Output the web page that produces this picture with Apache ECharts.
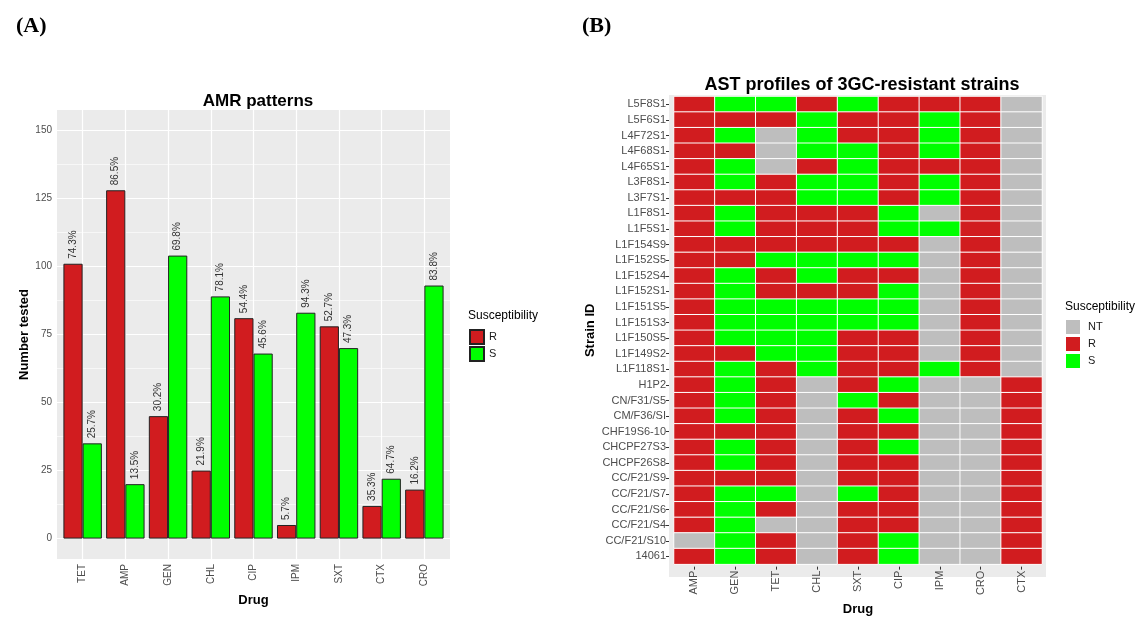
<!DOCTYPE html>
<html>
<head>
<meta charset="utf-8">
<script src="https://cdn.jsdelivr.net/npm/echarts@6/dist/echarts.min.js"></script>
<style>
html,body{margin:0;padding:0;background:#fff;}
#chart{width:1141px;height:621px;}
</style>
</head>
<body>
<div id="chart"></div>
<script>
// ---- Panel A data ----
const drugsA = ['TET','AMP','GEN','CHL','CIP','IPM','SXT','CTX','CRO'];
const resistantCounts = [101,128,45,25,81,5,78,12,18];
const susceptibleCounts = [35,20,104,89,68,83,70,22,93];
const resistantPct = ['74.3%','86.5%','30.2%','21.9%','54.4%','5.7%','52.7%','35.3%','16.2%'];
const susceptiblePct = ['25.7%','13.5%','69.8%','78.1%','45.6%','94.3%','47.3%','64.7%','83.8%'];
const yTicksA = [0,25,50,75,100,125,150];
const yMinorA = [12.5,37.5,62.5,87.5,112.5,137.5];

// ---- Panel B data ----
const drugsB = ['AMP','GEN','TET','CHL','SXT','CIP','IPM','CRO','CTX'];
const strains = ['L5F8S1','L5F6S1','L4F72S1','L4F68S1','L4F65S1','L3F8S1','L3F7S1','L1F8S1','L1F5S1','L1F154S9',
  'L1F152S5','L1F152S4','L1F152S1','L1F151S5','L1F151S3','L1F150S5','L1F149S2','L1F118S1','H1P2','CN/F31/S5',
  'CM/F36/SI','CHF19S6-10','CHCPF27S3','CHCPF26S8','CC/F21/S9','CC/F21/S7','CC/F21/S6','CC/F21/S4','CC/F21/S10','14061'];
const profiles = [
  ['R','S','S','R','S','R','R','R','NT'],
  ['R','R','R','S','R','R','S','R','NT'],
  ['R','S','NT','S','R','R','S','R','NT'],
  ['R','R','NT','S','S','R','S','R','NT'],
  ['R','S','NT','R','S','R','R','R','NT'],
  ['R','S','R','S','S','R','S','R','NT'],
  ['R','R','R','S','S','R','S','R','NT'],
  ['R','S','R','R','R','S','NT','R','NT'],
  ['R','S','R','R','R','S','S','R','NT'],
  ['R','R','R','R','R','R','NT','R','NT'],
  ['R','R','S','S','S','S','NT','R','NT'],
  ['R','S','R','S','R','R','NT','R','NT'],
  ['R','S','R','R','R','S','NT','R','NT'],
  ['R','S','S','S','S','S','NT','R','NT'],
  ['R','S','S','S','S','S','NT','R','NT'],
  ['R','S','S','S','R','R','NT','R','NT'],
  ['R','R','S','S','R','R','NT','R','NT'],
  ['R','S','R','S','R','R','S','R','NT'],
  ['R','S','R','NT','R','S','NT','NT','R'],
  ['R','S','R','NT','S','R','NT','NT','R'],
  ['R','S','R','NT','R','S','NT','NT','R'],
  ['R','R','R','NT','R','R','NT','NT','R'],
  ['R','S','R','NT','R','S','NT','NT','R'],
  ['R','S','R','NT','R','R','NT','NT','R'],
  ['R','R','R','NT','R','R','NT','NT','R'],
  ['R','S','S','NT','S','R','NT','NT','R'],
  ['R','S','R','NT','R','R','NT','NT','R'],
  ['R','S','NT','NT','R','R','NT','NT','R'],
  ['NT','S','R','NT','R','S','NT','NT','R'],
  ['R','S','R','NT','R','S','NT','NT','R']
];
const levels = ['NT','R','S'];

const RED = '#D11C1F', GREEN = '#00FF00', GREY = '#BEBEBE', PANEL = '#EBEBEB';
const FONT = 'Liberation Sans, Arial, sans-serif';

const heatData = [];
profiles.forEach((row, r) => row.forEach((v, c) => heatData.push([c, r, levels.indexOf(v)])));

const gridLinesA = [];
yTicksA.forEach(v => gridLinesA.push({yAxis: v, lineStyle: {color: '#fff', width: 1.2, type: 'solid'}}));
yMinorA.forEach(v => gridLinesA.push({yAxis: v, lineStyle: {color: '#fff', width: 0.6, type: 'solid'}}));
drugsA.forEach((d, i) => gridLinesA.push({xAxis: i, lineStyle: {color: '#fff', width: 1.2, type: 'solid'}}));

const chart = echarts.init(document.getElementById('chart'), null, {renderer: 'canvas'});
chart.setOption({
  animation: false,
  backgroundColor: '#fff',
  textStyle: {fontFamily: FONT},
  title: [
    {text: '(A)', left: 11, top: 10, textStyle: {fontFamily: 'Liberation Serif, serif', fontWeight: 'bold', fontSize: 22, color: '#000'}},
    {text: '(B)', left: 577, top: 10, textStyle: {fontFamily: 'Liberation Serif, serif', fontWeight: 'bold', fontSize: 22, color: '#000'}},
    {text: 'AMR patterns', left: 253, top: 88, textAlign: 'center', textStyle: {fontFamily: FONT, fontWeight: 'bold', fontSize: 17, color: '#000'}},
    {text: 'AST profiles of 3GC-resistant strains', left: 857, top: 71, textAlign: 'center', textStyle: {fontFamily: FONT, fontWeight: 'bold', fontSize: 18, color: '#000'}},
    {text: 'Susceptibility', left: 468, top: 310, padding: 0, textStyle: {fontFamily: FONT, fontWeight: 'normal', fontSize: 12, color: '#000'}},
    {text: 'Susceptibility', left: 1065, top: 301, padding: 0, textStyle: {fontFamily: FONT, fontWeight: 'normal', fontSize: 12, color: '#000'}}
  ],
  graphic: [
    {type: 'rect', z: -10, shape: {x: 669, y: 95, width: 377, height: 482}, style: {fill: PANEL}}
  ],
  legend: {
    data: ['R', 'S'], orient: 'vertical', left: 469, top: 329, padding: 0,
    itemWidth: 14, itemHeight: 14, itemGap: 1, icon: 'rect',
    textStyle: {fontFamily: FONT, fontSize: 11, color: '#1a1a1a'}
  },
  visualMap: {
    type: 'piecewise', seriesIndex: 3, orient: 'vertical', left: 1066, top: 320, padding: 0,
    itemWidth: 14, itemHeight: 14, itemGap: 3, itemSymbol: 'rect', textGap: 8, align: 'left',
    selectedMode: false, inverse: true,
    pieces: [
      {value: 0, label: 'NT', color: GREY},
      {value: 1, label: 'R', color: RED},
      {value: 2, label: 'S', color: GREEN}
    ],
    textStyle: {fontFamily: FONT, fontSize: 11, color: '#1a1a1a'}
  },
  grid: [
    {left: 57, top: 110, width: 393, height: 449, show: true, backgroundColor: PANEL, borderWidth: 0},
    {left: 674, top: 96.5, width: 368, height: 478}
  ],
  xAxis: [
    {
      gridIndex: 0, type: 'value', min: -0.6, max: 8.6,
      name: 'Drug', nameLocation: 'middle', nameGap: 32,
      nameTextStyle: {fontFamily: FONT, fontWeight: 'bold', fontSize: 13, color: '#000'},
      axisLine: {show: false}, splitLine: {show: false},
      axisTick: {show: true, length: 4, lineStyle: {color: '#333'}, customValues: drugsA.map((d, i) => i)},
      axisLabel: {rotate: 90, fontSize: 10, color: '#4D4D4D', margin: 5, fontFamily: FONT,
        customValues: drugsA.map((d, i) => i), formatter: v => drugsA[Math.round(v)] || ''}
    },
    {
      gridIndex: 1, type: 'category', data: drugsB, offset: 2.5,
      name: 'Drug', nameLocation: 'middle', nameGap: 34,
      nameTextStyle: {fontFamily: FONT, fontWeight: 'bold', fontSize: 13, color: '#000'},
      axisLine: {show: false}, splitLine: {show: false},
      axisTick: {show: true, alignWithLabel: true, length: 3, lineStyle: {color: '#333'}},
      axisLabel: {rotate: 90, fontSize: 11, color: '#4D4D4D', margin: 4, fontFamily: FONT}
    }
  ],
  yAxis: [
    {
      gridIndex: 0, type: 'value', min: -7.5, max: 157.5,
      name: 'Number tested', nameLocation: 'middle', nameGap: 26, nameRotate: 90,
      nameTextStyle: {fontFamily: FONT, fontWeight: 'bold', fontSize: 13, color: '#000'},
      axisLine: {show: false}, splitLine: {show: false},
      axisTick: {show: true, length: 4, lineStyle: {color: '#333'}, customValues: yTicksA},
      axisLabel: {fontSize: 10, color: '#4D4D4D', margin: 5, fontFamily: FONT, customValues: yTicksA}
    },
    {
      gridIndex: 1, type: 'category', data: strains, inverse: true, offset: 5,
      name: 'Strain ID', nameLocation: 'middle', nameGap: 72, nameRotate: 90,
      nameTextStyle: {fontFamily: FONT, fontWeight: 'bold', fontSize: 13, color: '#000'},
      axisLine: {show: false}, splitLine: {show: false},
      axisTick: {show: true, alignWithLabel: true, length: 3, lineStyle: {color: '#333'}},
      axisLabel: {fontSize: 11, color: '#4D4D4D', margin: 3, fontFamily: FONT}
    }
  ],
  series: [
    {
      type: 'line', xAxisIndex: 0, yAxisIndex: 0, data: [], z: 1, silent: true,
      markLine: {silent: true, z: 1, symbol: 'none', label: {show: false}, animation: false, data: gridLinesA}
    },
    {
      name: 'R', type: 'bar', xAxisIndex: 0, yAxisIndex: 0, z: 3,
      data: resistantCounts.map((v, i) => [i, v]),
      barGap: '0%', barCategoryGap: '10%',
      itemStyle: {color: RED, borderColor: '#222', borderWidth: 1},
      label: {show: true, position: 'top', rotate: 90, align: 'left', verticalAlign: 'middle', distance: 5,
        fontSize: 10, color: '#333', fontFamily: FONT, formatter: p => resistantPct[p.dataIndex]}
    },
    {
      name: 'S', type: 'bar', xAxisIndex: 0, yAxisIndex: 0, z: 3,
      data: susceptibleCounts.map((v, i) => [i, v]),
      barGap: '0%', barCategoryGap: '10%',
      itemStyle: {color: GREEN, borderColor: '#222', borderWidth: 1},
      label: {show: true, position: 'top', rotate: 90, align: 'left', verticalAlign: 'middle', distance: 5,
        fontSize: 10, color: '#333', fontFamily: FONT, formatter: p => susceptiblePct[p.dataIndex]}
    },
    {
      type: 'heatmap', xAxisIndex: 1, yAxisIndex: 1, data: heatData,
      itemStyle: {borderColor: '#fff', borderWidth: 1}
    }
  ]
});
</script>
</body>
</html>
